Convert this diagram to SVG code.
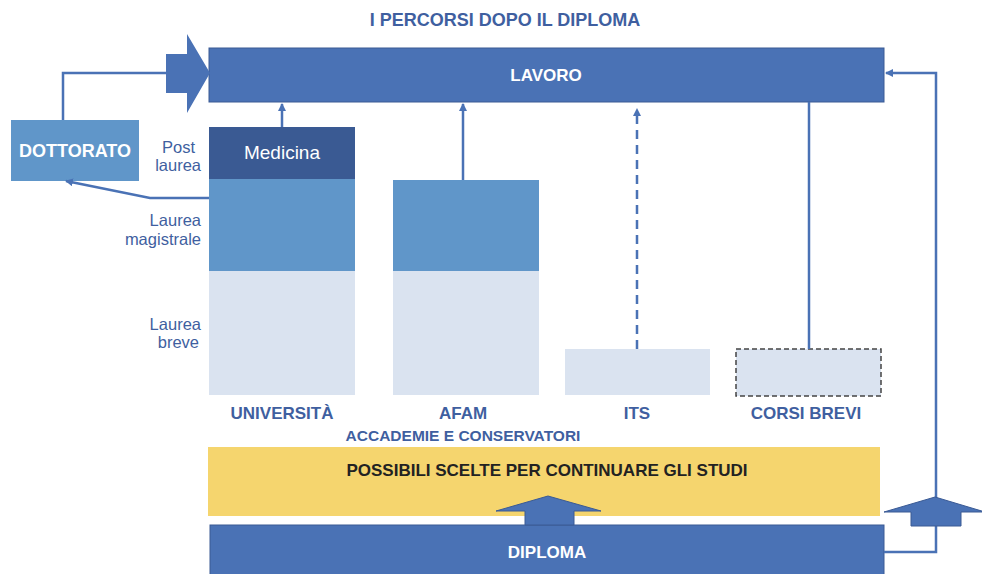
<svg xmlns="http://www.w3.org/2000/svg" width="982" height="574" viewBox="0 0 982 574">
<style>
text{font-family:"Liberation Sans",Arial,sans-serif}
.lbl{fill:#3F5FA0;font-weight:bold;font-size:17px;text-anchor:middle}
.side{fill:#3F5FA0;font-size:16.5px;text-anchor:end}
.wt{fill:#fff;font-weight:bold;font-size:17px;text-anchor:middle}
.con{stroke:#4A72B5;stroke-width:2.5;fill:none}
.blk{fill:#4A72B5;stroke:#3A5A94;stroke-width:1}
</style>
<defs>
<marker id="ah" markerWidth="8" markerHeight="8" refX="7" refY="4" orient="auto" markerUnits="userSpaceOnUse" viewBox="0 0 8 8">
<path d="M0,0 L8,4 L0,8 z" fill="#4A72B5"/>
</marker>
</defs>
<rect width="982" height="574" fill="#fff"/>
<text x="505" y="26" class="lbl" style="font-size:18px">I PERCORSI DOPO IL DIPLOMA</text>

<g id="lavoro">
<rect x="209" y="48" width="675" height="54" class="blk"/>
<text x="546" y="81" class="wt">LAVORO</text>
</g>
<g id="big-arrow-left">
<polygon points="166,54 187,54 187,34 210,73 187,113 187,93 166,93" fill="#4A72B5"/>
</g>
<g id="dottorato">
<rect x="11" y="120" width="128" height="61" fill="#6096C9"/>
<text x="75" y="157" class="wt" style="font-size:18px">DOTTORATO</text>
</g>
<g id="universita">
<rect x="209" y="127" width="146" height="52" fill="#3A5A93"/>
<text x="282" y="159" fill="#fff" font-size="19" text-anchor="middle">Medicina</text>
<rect x="209" y="179" width="146" height="92" fill="#6096C9"/>
<rect x="209" y="271" width="146" height="124" fill="#DAE3F0"/>
<text x="282" y="419" class="lbl">UNIVERSITÀ</text>
</g>
<g id="side-labels">
<text x="195" y="153" class="side">Post</text>
<text x="201" y="171" class="side">laurea</text>
<text x="201" y="226" class="side">Laurea</text>
<text x="201" y="245" class="side">magistrale</text>
<text x="201" y="330" class="side">Laurea</text>
<text x="199" y="348" class="side">breve</text>
</g>
<g id="afam">
<rect x="393" y="180" width="146" height="91" fill="#6096C9"/>
<rect x="393" y="271" width="146" height="124" fill="#DAE3F0"/>
<text x="463" y="419" class="lbl">AFAM</text>
<text x="463" y="441" class="lbl" style="font-size:15.5px">ACCADEMIE E CONSERVATORI</text>
</g>
<g id="its">
<rect x="565" y="349" width="145" height="46" fill="#DAE3F0"/>
<text x="637" y="419" class="lbl">ITS</text>
</g>
<g id="corsi-brevi">
<rect x="736" y="349" width="145" height="47" fill="#DAE3F0" stroke="#444" stroke-width="1.5" stroke-dasharray="5,3"/>
<text x="806" y="419" class="lbl">CORSI BREVI</text>
</g>
<g id="scelte">
<rect x="208" y="447" width="672" height="69" fill="#F5D56E"/>
<text x="547" y="476" fill="#222" font-weight="bold" font-size="17" text-anchor="middle">POSSIBILI SCELTE PER CONTINUARE GLI STUDI</text>
</g>
<g id="diploma">
<rect x="210" y="525" width="674" height="52" class="blk"/>
<text x="547" y="558" class="wt">DIPLOMA</text>
</g>

<g id="connectors">
<path d="M63,120 V73 H166" class="con"/>
<path d="M282,127 V104" class="con" marker-end="url(#ah)"/>
<path d="M463,180 V104" class="con" marker-end="url(#ah)"/>
<path d="M637,349 V109" class="con" stroke-dasharray="9,6" marker-end="url(#ah)"/>
<path d="M809,349 V102" class="con"/>
<path d="M209,198 H150 L66,181" class="con" marker-end="url(#ah)"/>
<path d="M884,552 H936 V73 H886" class="con" marker-end="url(#ah)"/>
<polygon points="525,525 525,511 496,511 548,496 601,511 574,511 574,525" fill="#4A72B5" stroke="#3A5A94" stroke-width="1"/>
<polygon points="911,526 911,512 884,512 935,497 985,512 961,512 961,526" fill="#4A72B5" stroke="#3A5A94" stroke-width="1"/>
</g>
</svg>
